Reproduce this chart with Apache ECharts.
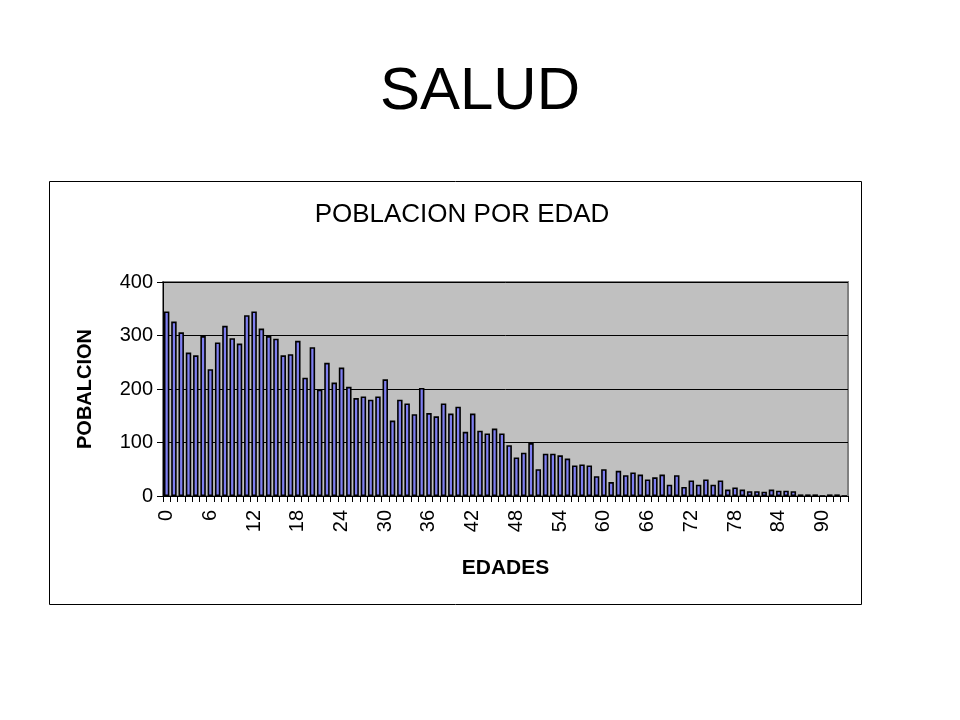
<!DOCTYPE html>
<html>
<head>
<meta charset="utf-8">
<script src="https://cdn.jsdelivr.net/npm/echarts@6/dist/echarts.min.js"></script>
<style>html,body{margin:0;padding:0;background:#fff}#c{width:960px;height:720px}</style>
</head>
<body>
<div id="c"></div>
<script>
var ages = [];
for (var i = 0; i <= 93; i++) ages.push(String(i));
var population = [345,326,306,268,263,299,237,287,318,295,285,338,345,313,299,294,263,265,290,221,
278,199,249,212,240,204,183,186,180,186,218,141,180,173,153,202,155,149,173,154,
167,120,154,122,117,126,117,95,72,81,99,50,79,79,76,70,57,59,57,37,
50,26,47,39,44,40,31,35,40,21,39,17,29,21,31,21,29,12,16,12,
9,9,8,12,10,10,9,3,3,3,0,3,3,0];
var yTicks = [0,100,200,300,400];
var mainTitle = 'SALUD';
var chartTitle = 'POBLACION POR EDAD';
var xName = 'EDADES';
var yName = 'POBALCION';

var FONT = 'Arial, "Liberation Sans", sans-serif';
var chart = echarts.init(document.getElementById('c'), null, {renderer: 'canvas'});
chart.setOption({
  animation: false,
  backgroundColor: '#ffffff',
  title: [
    {text: mainTitle, left: 'center', top: 57,
     textStyle: {fontFamily: FONT, fontSize: 60, fontWeight: 'normal', color: '#000'}},
    {text: chartTitle, left: 457, textAlign: 'center', top: 197,
     textStyle: {fontFamily: FONT, fontSize: 26, fontWeight: 'normal', color: '#000'}}
  ],
  graphic: [
    {type: 'rect', shape: {x: 49.5, y: 181.5, width: 812, height: 423},
     style: {fill: 'none', stroke: '#000', lineWidth: 1}, z: -1}
  ],
  grid: {left: 163, right: 112, top: 282, bottom: 224, show: true,
         backgroundColor: '#c0c0c0', borderColor: '#808080', borderWidth: 2},
  xAxis: {
    type: 'category', data: ages, boundaryGap: true,
    name: xName, nameLocation: 'middle', nameGap: 62,
    nameTextStyle: {fontFamily: FONT, fontSize: 21, fontWeight: 'bold', color: '#000'},
    axisLine: {lineStyle: {color: '#000', width: 1}},
    axisTick: {show: true, interval: 0, length: 6, lineStyle: {color: '#000'}},
    axisLabel: {interval: 5, rotate: 90, margin: 14, fontFamily: FONT, fontSize: 20, color: '#000'},
    splitLine: {show: false}
  },
  yAxis: {
    type: 'value', min: yTicks[0], max: yTicks[yTicks.length-1], interval: 100,
    name: yName, nameLocation: 'middle', nameGap: 68, nameRotate: 90,
    nameTextStyle: {fontFamily: FONT, fontSize: 20, fontWeight: 'bold', color: '#000'},
    axisLine: {show: true, lineStyle: {color: '#000', width: 1}},
    axisTick: {show: true, length: 6, lineStyle: {color: '#000'}},
    axisLabel: {margin: 10, fontFamily: FONT, fontSize: 20, color: '#000'},
    splitLine: {show: true, lineStyle: {color: '#000', width: 1}}
  },
  series: [{
    type: 'bar', data: population, barCategoryGap: '25%',
    itemStyle: {color: '#7f7ff0', borderColor: '#000', borderWidth: 1.6}
  }]
});
</script>
</body>
</html>
